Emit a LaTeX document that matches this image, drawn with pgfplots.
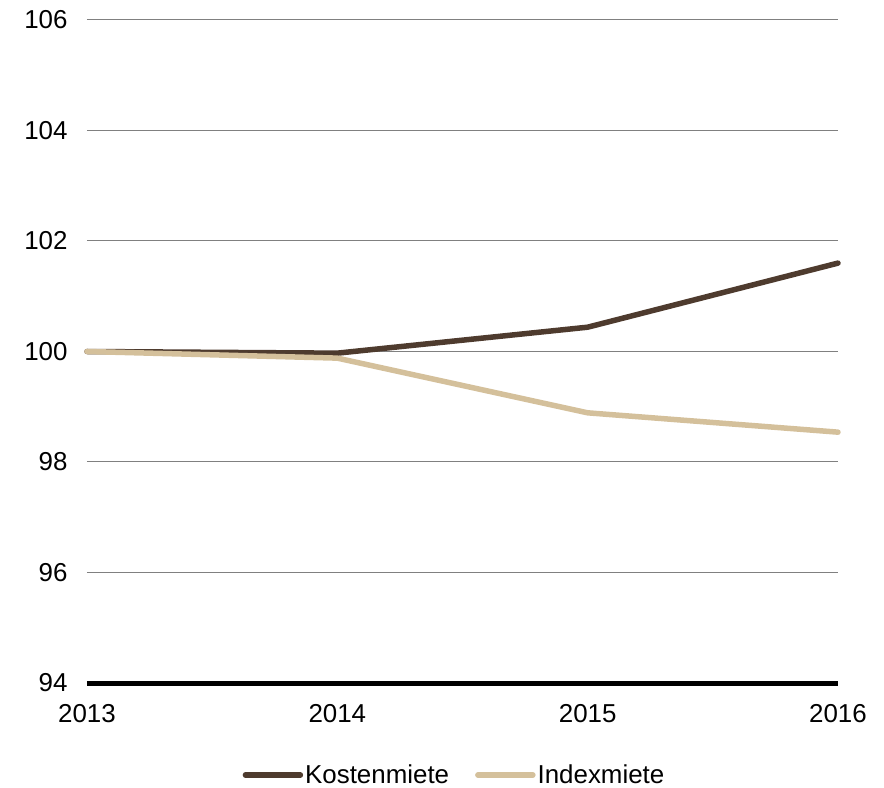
\documentclass[border=0pt]{standalone}
\usepackage{pgfplots}
\pgfplotsset{compat=1.18}
\usepackage{fontspec}
\setmainfont{Liberation Sans}
\definecolor{kosten}{HTML}{4E3B2E}
\definecolor{index}{HTML}{D4C09B}
\definecolor{gridgray}{HTML}{808080}
\begin{document}
\begin{tikzpicture}
\begin{axis}[
  scale only axis,
  width=751bp, height=663bp,
  xmin=2013, xmax=2016,
  ymin=94, ymax=106,
  xtick={2013,2014,2015,2016},
  ytick={94,96,98,100,102,104,106},
  /pgf/number format/1000 sep={},
  /pgf/number format/assume math mode=true,
  tick label style={font=\fontsize{26}{31}\selectfont},
  major tick length=0pt,
  axis x line*=bottom,
  axis y line*=left,
  x axis line style={line width=5bp, black, -},
  y axis line style={draw=none},
  ymajorgrids,
  grid style={gridgray, line width=1bp},
  yticklabel style={xshift=-16bp},
  xticklabel style={yshift=-18bp},
  clip=false,
  legend columns=2,
  legend style={draw=none, fill=none, at={(rel axis cs:0.5,0)}, anchor=center, yshift=-92bp, xshift=-8bp,
    font=\fontsize{26}{31}\selectfont, /tikz/every even column/.append style={column sep=24bp},
    inner sep=0pt},
  legend cell align=left,
  legend image code/.code={\draw[#1, line width=5.5bp, line cap=round] (0bp,0bp)--(55bp,0bp);},
]
\addplot[kosten, line width=5.5bp, line cap=round, line join=round] coordinates {
  (2013,100.00) (2014,99.97) (2015,100.44) (2016,101.60)
};
\addlegendentry{Kostenmiete}
\addplot[index, line width=5.5bp, line cap=round, line join=round] coordinates {
  (2013,100.00) (2014,99.88) (2015,98.89) (2016,98.54)
};
\addlegendentry{Indexmiete}
\end{axis}
\pgfresetboundingbox
\path[use as bounding box] (-87bp,-105bp) rectangle (797bp,683bp);
\end{tikzpicture}
\end{document}
